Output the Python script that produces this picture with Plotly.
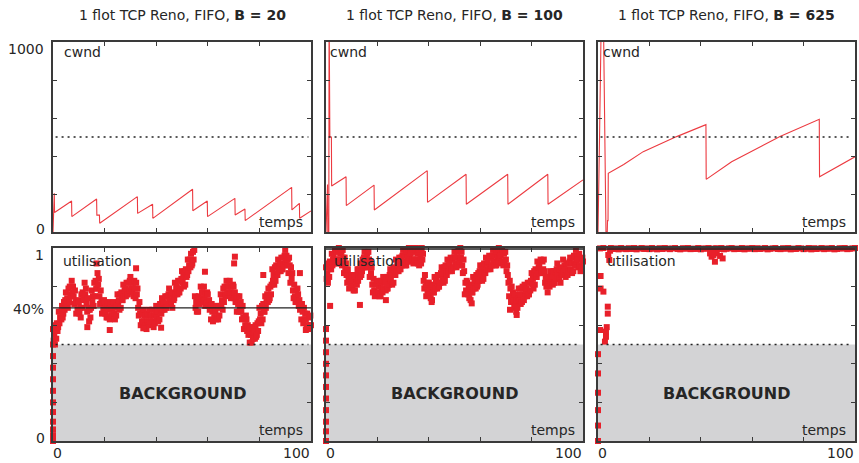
import plotly.graph_objects as go

W, H = 859, 463
FONT = "DejaVu Sans"
TXT = "#262626"
RED = "#e8202a"
AX = "#3a3a3a"

# ---------------- data ----------------
buffer_sizes = ["20", "100", "625"]

# cwnd (top row), time in [0,100], window in packets
cwnd1_t = [0, 0.3, 0.5, 0.6, 7.2, 7.3, 16.9, 17.0, 18.0, 18.1, 32.7, 32.8, 38.6, 38.7,
           54.1, 54.2, 59.8, 59.9, 70.5, 70.6, 74.4, 74.5, 92.5, 92.6, 95.5, 95.6, 100]
cwnd1_v = [0, 204, 204, 103, 163, 81, 174, 89, 89, 46, 186, 98, 146, 72,
           225, 112, 163, 81, 177, 89, 121, 60, 235, 116, 151, 72, 111]

cwnd2_t = [0, 0.5, 0.6, 0.7, 1.1, 1.2, 1.5, 2.1, 2.2, 7.8, 7.9, 18.7, 18.8, 39.4, 39.5,
           54.5, 54.6, 70.7, 70.8, 86.3, 86.4, 100]
cwnd2_v = [0, 250, 250, 0, 0, 1200, 500, 500, 242, 291, 139, 247, 116, 323, 156,
           304, 146, 304, 146, 304, 146, 274]

cwnd3_t = [0, 0.4, 0.6, 1.4, 2.0, 3.1, 3.6, 3.7, 3.9, 4.0, 10.0, 17.6, 30.6, 42.0, 42.1,
           52.0, 60.0, 70.8, 86.1, 86.2, 100]
cwnd3_v = [0, 500, 500, 1250, 1250, 0, 0, 60, 60, 309, 355, 423, 502, 565, 277,
           370, 428, 502, 593, 291, 396]

cwnd_target = 500

# utilisation (bottom row), sampled every 0.25 time unit
util_t = [i * 0.25 for i in range(401)]

util1 = [
    0.58, 0.52, 0.55, 0.50, 0.60, 0.53, 0.61, 0.57, 0.59, 0.67, 0.61, 0.64, 0.67, 0.63, 0.70, 0.64, 0.66, 0.72, 0.68, 0.73,
    0.77, 0.71, 0.74, 0.69, 0.79, 0.72, 0.80, 0.76, 0.75, 0.83, 0.77, 0.80, 0.75, 0.71, 0.78, 0.72, 0.66, 0.72, 0.68, 0.73,
    0.72, 0.66, 0.69, 0.64, 0.76, 0.69, 0.77, 0.73, 0.74, 0.82, 0.76, 0.79, 0.71, 0.67, 0.74, 0.68, 0.62, 0.68, 0.64, 0.69,
    0.78, 0.72, 0.75, 0.70, 0.82, 0.75, 0.83, 0.79, 0.79, 0.87, 0.81, 0.84, 0.75, 0.71, 0.78, 0.72, 0.66, 0.72, 0.68, 0.73,
    0.72, 0.66, 0.69, 0.64, 0.71, 0.64, 0.72, 0.68, 0.63, 0.71, 0.65, 0.68, 0.69, 0.65, 0.72, 0.66, 0.63, 0.69, 0.65, 0.70,
    0.76, 0.70, 0.73, 0.68, 0.76, 0.69, 0.77, 0.73, 0.73, 0.81, 0.75, 0.78, 0.79, 0.75, 0.82, 0.76, 0.76, 0.82, 0.78, 0.83,
    0.85, 0.79, 0.82, 0.77, 0.82, 0.75, 0.83, 0.79, 0.74, 0.82, 0.76, 0.79, 0.69, 0.65, 0.72, 0.66, 0.60, 0.66, 0.62, 0.67,
    0.68, 0.62, 0.65, 0.60, 0.65, 0.58, 0.66, 0.62, 0.60, 0.68, 0.62, 0.65, 0.65, 0.61, 0.68, 0.62, 0.59, 0.65, 0.61, 0.66,
    0.70, 0.64, 0.67, 0.62, 0.70, 0.63, 0.71, 0.67, 0.66, 0.74, 0.68, 0.71, 0.72, 0.68, 0.75, 0.69, 0.69, 0.75, 0.71, 0.76,
    0.79, 0.73, 0.76, 0.71, 0.76, 0.69, 0.77, 0.73, 0.74, 0.82, 0.76, 0.79, 0.80, 0.76, 0.83, 0.77, 0.77, 0.83, 0.79, 0.84,
    0.88, 0.82, 0.85, 0.80, 0.88, 0.81, 0.89, 0.85, 0.86, 0.94, 0.88, 0.91, 0.94, 0.90, 0.97, 0.91, 0.92, 0.98, 0.94, 0.99,
    0.75, 0.69, 0.72, 0.67, 0.74, 0.67, 0.75, 0.71, 0.72, 0.80, 0.74, 0.77, 0.77, 0.73, 0.80, 0.74, 0.70, 0.76, 0.72, 0.77,
    0.76, 0.70, 0.73, 0.68, 0.70, 0.63, 0.71, 0.67, 0.62, 0.70, 0.64, 0.67, 0.67, 0.63, 0.70, 0.64, 0.63, 0.69, 0.65, 0.70,
    0.76, 0.70, 0.73, 0.68, 0.79, 0.72, 0.80, 0.76, 0.75, 0.83, 0.77, 0.80, 0.80, 0.76, 0.83, 0.77, 0.74, 0.80, 0.76, 0.81,
    0.80, 0.74, 0.77, 0.72, 0.74, 0.67, 0.75, 0.71, 0.67, 0.75, 0.69, 0.72, 0.67, 0.63, 0.70, 0.64, 0.58, 0.64, 0.60, 0.65,
    0.63, 0.57, 0.60, 0.55, 0.58, 0.51, 0.59, 0.55, 0.51, 0.59, 0.53, 0.56, 0.57, 0.53, 0.60, 0.54, 0.55, 0.61, 0.57, 0.62,
    0.69, 0.63, 0.66, 0.61, 0.70, 0.63, 0.71, 0.67, 0.67, 0.75, 0.69, 0.72, 0.76, 0.72, 0.79, 0.73, 0.74, 0.80, 0.76, 0.81,
    0.89, 0.83, 0.86, 0.81, 0.90, 0.83, 0.91, 0.87, 0.86, 0.94, 0.88, 0.91, 0.92, 0.88, 0.95, 0.89, 0.89, 0.95, 0.91, 0.96,
    0.99, 0.93, 0.96, 0.91, 0.94, 0.87, 0.95, 0.91, 0.82, 0.90, 0.84, 0.87, 0.78, 0.74, 0.81, 0.75, 0.72, 0.78, 0.74, 0.79,
    0.76, 0.70, 0.73, 0.68, 0.70, 0.63, 0.71, 0.67, 0.61, 0.69, 0.63, 0.66, 0.63, 0.59, 0.66, 0.60, 0.58, 0.64, 0.60, 0.65,
    0.60]

util2 = [
    0.90, 0.84, 0.87, 0.82, 0.92, 0.85, 0.93, 0.89, 0.89, 0.97, 0.91, 0.94, 0.96, 0.92, 0.99, 0.93, 0.92, 0.98, 0.94, 0.99,
    1.00, 0.94, 0.97, 0.92, 0.98, 0.91, 0.99, 0.95, 0.87, 0.95, 0.89, 0.92, 0.86, 0.82, 0.89, 0.83, 0.79, 0.85, 0.81, 0.86,
    0.86, 0.80, 0.83, 0.78, 0.85, 0.78, 0.86, 0.82, 0.81, 0.89, 0.83, 0.86, 0.89, 0.85, 0.92, 0.86, 0.88, 0.94, 0.90, 0.95,
    0.98, 0.92, 0.95, 0.90, 0.97, 0.90, 0.98, 0.94, 0.85, 0.93, 0.87, 0.90, 0.81, 0.77, 0.84, 0.78, 0.75, 0.81, 0.77, 0.82,
    0.83, 0.77, 0.80, 0.75, 0.82, 0.75, 0.83, 0.79, 0.77, 0.85, 0.79, 0.82, 0.82, 0.78, 0.85, 0.79, 0.79, 0.85, 0.81, 0.86,
    0.89, 0.83, 0.86, 0.81, 0.89, 0.82, 0.90, 0.86, 0.86, 0.94, 0.88, 0.91, 0.92, 0.88, 0.95, 0.89, 0.89, 0.95, 0.91, 0.96,
    0.99, 0.93, 0.96, 0.91, 0.98, 0.91, 0.99, 0.95, 0.93, 1.00, 0.95, 0.98, 0.97, 0.93, 1.00, 0.94, 0.92, 0.98, 0.94, 0.99,
    1.00, 0.94, 0.97, 0.92, 0.98, 0.91, 0.99, 0.95, 0.92, 1.00, 0.94, 0.97, 0.83, 0.79, 0.86, 0.80, 0.75, 0.81, 0.77, 0.82,
    0.82, 0.76, 0.79, 0.74, 0.80, 0.73, 0.81, 0.77, 0.77, 0.85, 0.79, 0.82, 0.83, 0.79, 0.86, 0.80, 0.80, 0.86, 0.82, 0.87,
    0.90, 0.84, 0.87, 0.82, 0.90, 0.83, 0.91, 0.87, 0.86, 0.94, 0.88, 0.91, 0.92, 0.88, 0.95, 0.89, 0.88, 0.94, 0.90, 0.95,
    0.98, 0.92, 0.95, 0.90, 0.98, 0.91, 0.99, 0.95, 0.93, 1.00, 0.95, 0.98, 0.91, 0.87, 0.94, 0.88, 0.76, 0.82, 0.78, 0.83,
    0.82, 0.76, 0.79, 0.74, 0.80, 0.73, 0.81, 0.77, 0.77, 0.85, 0.79, 0.82, 0.83, 0.79, 0.86, 0.80, 0.81, 0.87, 0.83, 0.88,
    0.91, 0.85, 0.88, 0.83, 0.91, 0.84, 0.92, 0.88, 0.87, 0.95, 0.89, 0.92, 0.93, 0.89, 0.96, 0.90, 0.89, 0.95, 0.91, 0.96,
    0.99, 0.93, 0.96, 0.91, 0.98, 0.91, 0.99, 0.95, 0.93, 1.00, 0.95, 0.98, 0.96, 0.92, 0.99, 0.93, 0.91, 0.97, 0.93, 0.98,
    0.94, 0.88, 0.91, 0.86, 0.82, 0.75, 0.83, 0.79, 0.72, 0.80, 0.74, 0.77, 0.73, 0.69, 0.76, 0.70, 0.67, 0.73, 0.69, 0.74,
    0.79, 0.73, 0.76, 0.71, 0.79, 0.72, 0.80, 0.76, 0.73, 0.81, 0.75, 0.78, 0.79, 0.75, 0.82, 0.76, 0.76, 0.82, 0.78, 0.83,
    0.87, 0.81, 0.84, 0.79, 0.88, 0.81, 0.89, 0.85, 0.85, 0.93, 0.87, 0.90, 0.91, 0.87, 0.94, 0.88, 0.87, 0.93, 0.89, 0.94,
    0.88, 0.82, 0.85, 0.80, 0.84, 0.77, 0.85, 0.81, 0.80, 0.88, 0.82, 0.85, 0.85, 0.81, 0.88, 0.82, 0.82, 0.88, 0.84, 0.89,
    0.92, 0.86, 0.89, 0.84, 0.89, 0.82, 0.90, 0.86, 0.86, 0.94, 0.88, 0.91, 0.89, 0.85, 0.92, 0.86, 0.86, 0.92, 0.88, 0.93,
    0.95, 0.89, 0.92, 0.87, 0.95, 0.88, 0.96, 0.92, 0.91, 0.99, 0.93, 0.96, 0.94, 0.90, 0.97, 0.91, 0.88, 0.94, 0.90, 0.95,
    0.93]

# sparse extra samples (outliers and start-up samples)
util1_extra_t = [0, 0, 0, 0, 0, 0, 0, 0, 0, 0, 0, 100.3, 70.5, 70.2, 32.2, 16.9, 58.9,
                 95.7, 81.5, 22.0, 35.0, 41.9, 13.3, 98.0]
util1_extra_v = [0.0, 0.03, 0.06, 0.10, 0.15, 0.20, 0.26, 0.32, 0.38, 0.44, 0.50, 0.48,
                 0.955, 0.92, 0.895, 0.92, 0.877, 0.87, 0.86, 0.575, 0.584, 0.587, 0.59, 0.575]

util2_extra_t = [0, 0, 0, 0, 0, 0, 0, 0, 0, 0, 0, 1.6, 13.2, 74.2, 100.1, 41.1, 23.3,
                 56.7, 71.6]
util2_extra_v = [0.0, 0.05, 0.10, 0.16, 0.22, 0.28, 0.34, 0.40, 0.46, 0.52, 0.58, 0.70,
                 0.705, 0.653, 0.75, 0.72, 0.73, 0.713, 0.68]

util3_t = [0, 0, 0, 0, 0, 0, 0.8, 2.1, 1.0, 1.0, 2.1, 3.8, 3.8, 3.4, 3.1, 3.1, 2.7, 0.8,
           4.7, 4.4, 4.0, 43.6, 44.2, 44.9, 45.5, 46.2, 47.5, 48.5, 44.6]
util3_v = [0.0, 0.08, 0.16, 0.25, 0.35, 0.45, 0.998, 1.0, 0.855, 0.79, 0.774, 0.696, 0.66,
           0.59, 0.567, 0.54, 0.515, 0.575, 0.986, 0.938, 0.964, 0.972, 0.955, 0.964,
           0.929, 0.972, 0.959, 0.946, 0.98]
util3_band_t = list(range(5, 101))
util3_band_v = [1.0, 0.995, 0.998, 0.993, 1.0, 0.996, 0.994, 0.999, 0.995, 1.0,
                0.993, 0.997, 1.0, 0.995, 0.998, 0.994, 1.0, 0.996, 0.993, 0.999,
                0.995, 1.0, 0.997, 0.994, 0.998, 1.0, 0.995, 0.993, 0.999, 0.996,
                1.0, 0.994, 0.997, 0.995, 1.0, 0.993, 0.998, 0.996, 1.0, 0.994,
                0.997, 0.999, 0.995, 1.0, 0.993, 0.996, 0.998, 1.0, 0.994, 0.997,
                0.995, 1.0, 0.993, 0.998, 0.996, 1.0, 0.994, 0.999, 0.995, 0.997,
                1.0, 0.993, 0.996, 0.998, 1.0, 0.995, 0.994, 0.999, 0.996, 1.0,
                0.993, 0.997, 0.995, 1.0, 0.998, 0.994, 0.996, 1.0, 0.993, 0.999,
                0.995, 0.997, 1.0, 0.994, 0.998, 0.996, 1.0, 0.993, 0.995, 0.999,
                0.997, 1.0, 0.994, 0.996, 0.998, 1.0]

background_share = 0.5
reference_level = [0.69, 0.995, 0.995]

x_tick_labels = ["0", "100"]
cwnd_tick_labels = ["0", "1000"]
util_tick_labels = ["0", "40%", "1"]

# ---------------- figure ----------------
fig = go.Figure()


def px_x(p):
    return p / W


def px_y(p):
    return 1 - p / H


x_dom = [(53, 311), (326, 583), (598, 855)]
top_dom = (42, 232)
bot_dom = (248, 441)

cwnd_t = [cwnd1_t, cwnd2_t, cwnd3_t]
cwnd_v = [cwnd1_v, cwnd2_v, cwnd3_v]

for i in range(3):
    fig.add_trace(go.Scatter(x=cwnd_t[i], y=cwnd_v[i], mode="lines",
                             line=dict(color="#ec3a40", width=1.1),
                             xaxis=f"x{i + 1}", yaxis=f"y{i + 1}",
                             showlegend=False, hoverinfo="skip"))

marker = dict(color=RED, size=6, symbol="square", line=dict(width=0))
series_bottom = [
    [(util_t, util1), (util1_extra_t, util1_extra_v)],
    [(util_t, util2), (util2_extra_t, util2_extra_v)],
    [(util3_band_t, util3_band_v), (util3_t, util3_v)],
]
for i in range(3):
    for tt, vv in series_bottom[i]:
        fig.add_trace(go.Scatter(x=tt, y=vv, mode="markers", marker=marker,
                                 cliponaxis=False, xaxis=f"x{i + 4}", yaxis=f"y{i + 4}",
                                 showlegend=False, hoverinfo="skip"))

axis_common = dict(showgrid=False, zeroline=False, showline=True, linecolor=AX,
                   linewidth=1.6, mirror="ticks", ticks="inside", ticklen=4,
                   tickwidth=1, tickcolor=AX, showticklabels=False)

layout = {}
for i in range(3):
    x0, x1 = x_dom[i]
    for row, (ydom, yr, yticks) in enumerate([
        (top_dom, [0, 1000], [200, 400, 600, 800]),
        (bot_dom, [0, 1.0], [0.2, 0.4, 0.6, 0.8]),
    ]):
        n = i + 1 + 3 * row
        layout[f"xaxis{n}"] = dict(axis_common, domain=[px_x(x0), px_x(x1)],
                                   range=[0, 100], anchor=f"y{n}",
                                   tickvals=[20, 40, 60, 80])
        layout[f"yaxis{n}"] = dict(axis_common, domain=[px_y(ydom[1]), px_y(ydom[0])],
                                   range=yr, anchor=f"x{n}", tickvals=yticks)

shapes = []
for i in range(3):
    shapes.append(dict(type="line", xref=f"x{i + 1}", yref=f"y{i + 1}", x0=1, x1=99,
                       y0=cwnd_target, y1=cwnd_target,
                       line=dict(color="#222", width=1.6, dash="2px,4px"), layer="above"))
    shapes.append(dict(type="rect", xref=f"x{i + 4}", yref=f"y{i + 4}", x0=0, x1=100,
                       y0=0, y1=background_share, fillcolor="#d3d3d5",
                       line=dict(width=0), layer="below"))
    shapes.append(dict(type="line", xref=f"x{i + 4}", yref=f"y{i + 4}", x0=1, x1=99,
                       y0=background_share, y1=background_share,
                       line=dict(color="#222", width=1.6, dash="2px,4px"), layer="above"))
    shapes.append(dict(type="line", xref=f"x{i + 4}", yref=f"y{i + 4}", x0=0, x1=100,
                       y0=reference_level[i], y1=reference_level[i],
                       line=dict(color="#222", width=1.4), layer="above"))


def ann(text, x, y, xanchor="left", size=14):
    return dict(text=text, x=px_x(x), y=px_y(y), xref="paper", yref="paper",
                xanchor=xanchor, yanchor="middle", showarrow=False,
                font=dict(family=FONT, size=size, color=TXT))


annotations = []
centers = [182, 454.5, 726.5]
cwnd_lbl_x = [61.7, 328, 600.7]
util_lbl_x = [60.7, 331.7, 605]
temps_x = [305, 576.7, 848.3]
for i in range(3):
    annotations.append(ann(f"1 flot TCP Reno, FIFO, <b>B = {buffer_sizes[i]}</b>",
                           centers[i], 15, "center"))
    annotations.append(ann("cwnd", cwnd_lbl_x[i], 52))
    annotations.append(ann("utilisation", util_lbl_x[i], 261))
    annotations.append(ann("temps", temps_x[i], 221.5, "right"))
    annotations.append(ann("temps", temps_x[i], 430, "right"))
    annotations.append(ann("<b>BACKGROUND</b>", centers[i], 393, "center", size=16))
    annotations.append(ann(x_tick_labels[0], x_dom[i][0] - 2, 453, "left"))
    annotations.append(ann(x_tick_labels[1], x_dom[i][1] + 1, 453, "right"))

annotations.append(ann(cwnd_tick_labels[1], 46, 48.5, "right"))
annotations.append(ann(cwnd_tick_labels[0], 47, 229, "right"))
annotations.append(ann(util_tick_labels[2], 46, 255, "right"))
annotations.append(ann(util_tick_labels[1], 46, 309, "right"))
annotations.append(ann(util_tick_labels[0], 47, 438, "right"))

fig.update_layout(width=W, height=H, margin=dict(l=0, r=0, t=0, b=0),
                  paper_bgcolor="white", plot_bgcolor="white",
                  shapes=shapes, annotations=annotations,
                  font=dict(family=FONT, size=14, color=TXT), **layout)

fig.write_html("out.html")
